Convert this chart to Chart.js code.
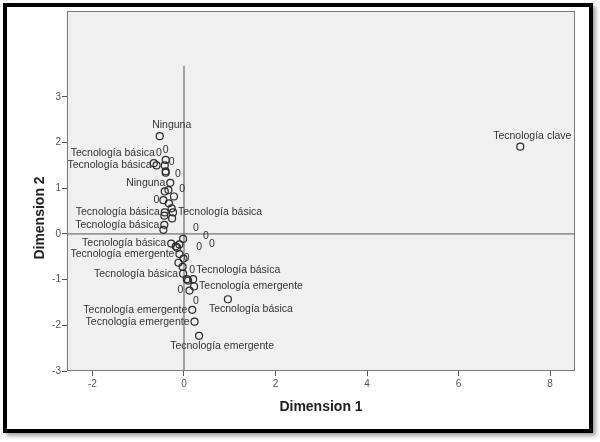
<!DOCTYPE html>
<html>
<head>
<meta charset="utf-8">
<script src="https://cdn.jsdelivr.net/npm/chart.js@4"></script>
<style>
  html, body { margin: 0; padding: 0; background: #fff; }
  #wrap { position: relative; width: 600px; height: 442px; }
  #frame {
    position: absolute; left: 3px; top: 3px; width: 582px; height: 422px;
    border: 4px solid #000; box-shadow: 3px 3px 4px rgba(0,0,0,0.35);
  }
  canvas { position: absolute; left: 0; top: 0; }
</style>
</head>
<body>
<div id="wrap">
  <div id="frame"></div>
  <canvas id="chart" width="600" height="442"></canvas>
</div>
<script>
// Puntos con marcador (circulo)
const circleX = [-0.53, -0.66, -0.60, -0.40, -0.42, -0.40, -0.40, -0.30, -0.42, -0.34,
                 -0.22, -0.45, -0.33, -0.42, -0.43, -0.27, -0.24, -0.26, -0.43, -0.45,
                 -0.02, -0.28, -0.18, -0.15, -0.10, -0.10, -0.01, -0.12, -0.03, -0.02,
                  0.06,  0.09,  0.20,  0.22,  0.12,  0.96,  0.18,  0.23,  0.33,  7.35];
const circleY = [ 2.14,  1.55,  1.50,  1.62,  1.50,  1.37,  1.34,  1.12,  0.93,  0.96,
                  0.82,  0.74,  0.67,  0.47,  0.40,  0.56,  0.47,  0.34,  0.20,  0.09,
                 -0.11, -0.21, -0.27, -0.30, -0.23, -0.44, -0.54, -0.63, -0.72, -0.87,
                 -0.99, -1.02, -0.99, -1.15, -1.24, -1.43, -1.66, -1.92, -2.23,  1.91];
const circleLabel = ['Ninguna', '', 'Tecnología básica', '', '', '', '', 'Ninguna', '', '',
                     '', '', '', 'Tecnología básica', '', '', 'Tecnología básica', '', 'Tecnología básica', '',
                     '', 'Tecnología básica', '', '', '', 'Tecnología emergente', '', '', '', 'Tecnología básica',
                     '', '', '', 'Tecnología emergente', '', 'Tecnología básica', 'Tecnología emergente', 'Tecnología emergente', 'Tecnología emergente', 'Tecnología clave'];

// Puntos etiquetados "0"
const zeroX = [-0.40, -0.55, -0.27, -0.13, -0.04, -0.60, 0.26, 0.48, 0.61, 0.33, 0.06, 0.18, -0.08, 0.26];
const zeroY = [ 1.84,  1.76,  1.57,  1.30,  0.99,  0.74, 0.12, -0.04, -0.22, -0.28, -0.53, -0.79, -1.24, -1.46];
const zeroLabel = ['', 'Tecnología básica', '', '', '', '', '', '', '', '', '', 'Tecnología básica', '', ''];

// Ejes
const xTicks = [-2, 0, 2, 4, 6, 8];
const yTicks = [-3, -2, -1, 0, 1, 2, 3];
const xMin = -2.557, xMax = 8.546;
const yMin = -3, yMax = 4.88;
const vLineTop = 3.68;

// donde va cada etiqueta respecto a su punto
const circleSide = ['top', '', 'left', '', '', '', '', 'left', '', '',
                    '', '', '', 'left', '', '', 'right', '', 'left', '',
                    '', 'left', '', '', '', 'left', '', '', '', 'left',
                    '', '', '', 'right', '', 'bottom', 'left', 'left', 'bottom', 'top'];
const zeroSide = ['', 'left', '', '', '', '', '', '', '', '', '', 'right', '', ''];

const FONT = "'Liberation Sans', Arial, sans-serif";

const labelsPlugin = {
  id: 'spssLabels',
  beforeDraw(chart) {
    const { ctx, chartArea: a } = chart;
    ctx.save();
    ctx.fillStyle = '#f0f0f0';
    ctx.fillRect(a.left, a.top, a.right - a.left, a.bottom - a.top);
    ctx.restore();
  },
  afterDatasetsDraw(chart) {
    const { ctx, chartArea: a, scales } = chart;
    const sx = scales.x, sy = scales.y;
    ctx.save();
    ctx.font = '10.5px ' + FONT;
    ctx.fillStyle = '#333';
    ctx.textBaseline = 'middle';

    function put(text, px, py, side, gap) {
      if (!text) return;
      if (side === 'left') { ctx.textAlign = 'right'; ctx.fillText(text, px - gap, py); }
      else if (side === 'right') { ctx.textAlign = 'left'; ctx.fillText(text, px + gap, py); }
      else if (side === 'top') { ctx.textAlign = 'center'; ctx.fillText(text, px + 12, py - 11); }
      else if (side === 'bottom') { ctx.textAlign = 'center'; ctx.fillText(text, px + 23, py + 10); }
    }

    // los "0"
    zeroX.forEach((v, i) => {
      const px = sx.getPixelForValue(v), py = sy.getPixelForValue(zeroY[i]);
      ctx.textAlign = 'center';
      ctx.fillText('0', px, py);
      put(zeroLabel[i], px, py, zeroSide[i], 4);
    });
    circleX.forEach((v, i) => {
      const px = sx.getPixelForValue(v), py = sy.getPixelForValue(circleY[i]);
      put(circleLabel[i], px, py, circleSide[i], 5);
    });

    // marco del area
    ctx.strokeStyle = '#7a7a7a';
    ctx.lineWidth = 1;
    ctx.strokeRect(a.left + 0.5, a.top + 0.5, a.right - a.left - 1, a.bottom - a.top - 1);

    // titulos de ejes
    ctx.fillStyle = '#222';
    ctx.font = 'bold 14px ' + FONT;
    ctx.textAlign = 'center';
    ctx.fillText('Dimension 1', (a.left + a.right) / 2, a.bottom + 36);
    ctx.translate(40, a.top + 207);
    ctx.rotate(-Math.PI / 2);
    ctx.fillText('Dimension 2', 0, 0);
    ctx.restore();
  }
};

new Chart(document.getElementById('chart'), {
  type: 'scatter',
  data: {
    datasets: [
      {
        data: circleX.map((v, i) => ({ x: v, y: circleY[i] })),
        pointStyle: 'circle',
        pointRadius: 3.5,
        borderColor: '#2a2a2a',
        backgroundColor: 'rgba(0,0,0,0)',
        borderWidth: 1.2
      },
      {
        data: zeroX.map((v, i) => ({ x: v, y: zeroY[i] })),
        pointRadius: 0
      },
      {
        type: 'line',
        data: [{ x: xMin, y: 0 }, { x: xMax, y: 0 }],
        borderColor: '#555',
        borderWidth: 1,
        pointRadius: 0
      },
      {
        type: 'line',
        data: [{ x: 0, y: yMin }, { x: 0, y: vLineTop }],
        borderColor: '#555',
        borderWidth: 1,
        pointRadius: 0
      }
    ]
  },
  options: {
    responsive: false,
    animation: false,
    events: [],
    layout: { padding: { top: 11, right: 25, left: 0, bottom: 0 } },
    plugins: {
      legend: { display: false },
      tooltip: { enabled: false }
    },
    scales: {
      x: {
        type: 'linear',
        min: xMin,
        max: xMax,
        afterBuildTicks: s => { s.ticks = xTicks.map(v => ({ value: v })); },
        afterFit: s => { s.height = 71; },
        border: { display: false },
        grid: { drawOnChartArea: false, tickLength: 5, color: '#555' },
        ticks: { font: { family: FONT, size: 10 }, color: '#555', padding: 2 }
      },
      y: {
        type: 'linear',
        min: yMin,
        max: yMax,
        afterBuildTicks: s => { s.ticks = yTicks.map(v => ({ value: v })); },
        afterFit: s => { s.width = 67; },
        border: { display: false },
        grid: { drawOnChartArea: false, tickLength: 5, color: '#555' },
        ticks: { font: { family: FONT, size: 10 }, color: '#555', padding: 1 }
      }
    }
  },
  plugins: [labelsPlugin]
});
</script>
</body>
</html>
